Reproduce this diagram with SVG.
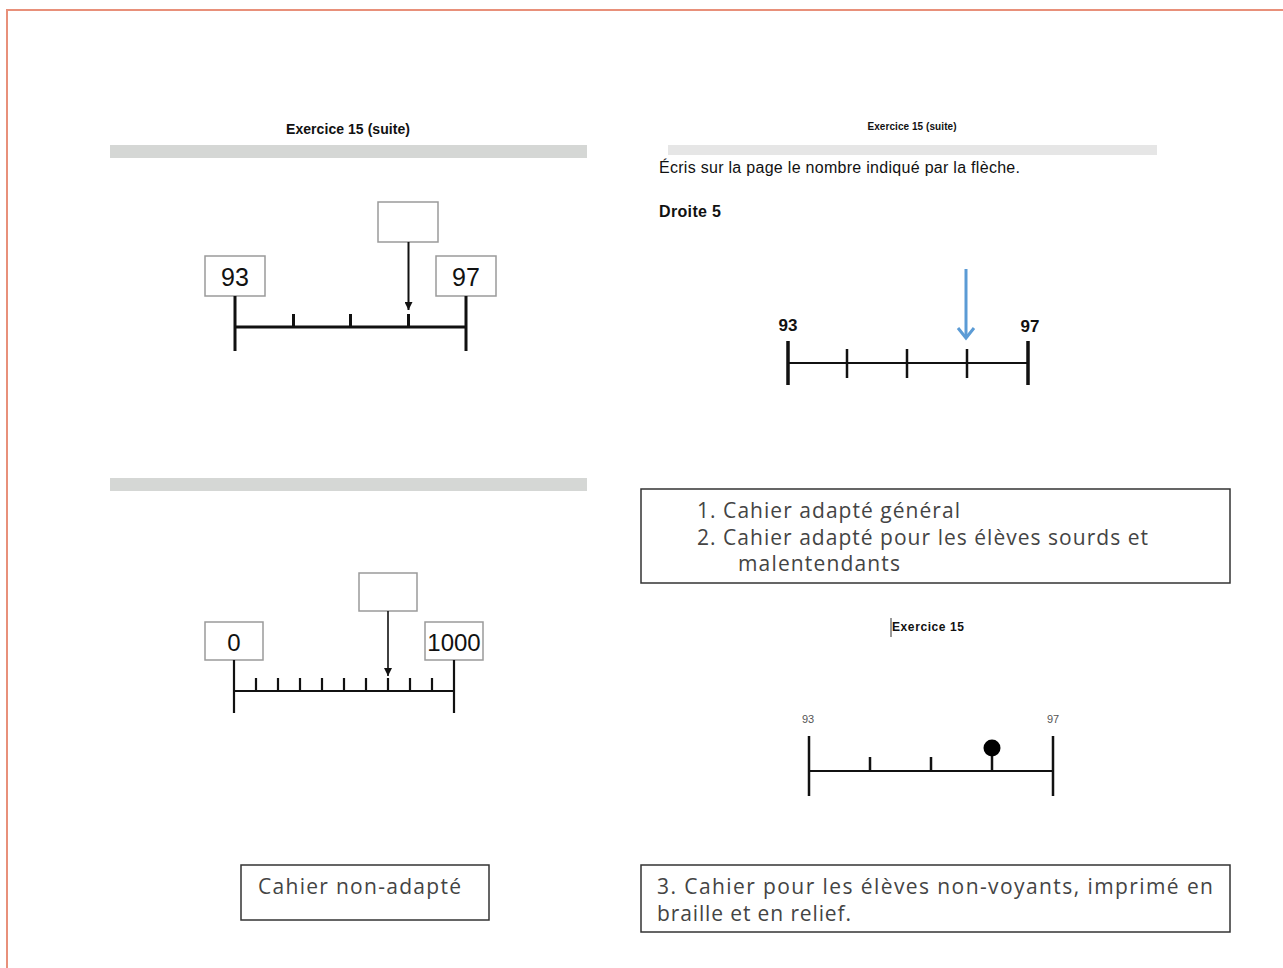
<svg xmlns="http://www.w3.org/2000/svg" width="1283" height="968" viewBox="0 0 1283 968">
<style>
.bar{fill:#d5d7d5}
.bx{fill:#fff;stroke:#9a9a9a;stroke-width:1.5}
.ln{stroke:#111;stroke-width:3;fill:none;stroke-linecap:butt}
.ln2{stroke:#111;stroke-width:2.2;fill:none}
.t{font-family:"Liberation Sans",Arial,sans-serif;fill:#111}
.lbl{fill:#fff;stroke:#333;stroke-width:1.5}
.cap{font-family:"Open Sans","Noto Sans",sans-serif;fill:#444;font-size:21px}
</style>
<defs>
<marker id="ah" viewBox="0 0 8 8" refX="8" refY="4" markerWidth="8" markerHeight="8" markerUnits="userSpaceOnUse" orient="auto">
<path d="M0,0 L8,4 L0,8 z" fill="#111"/>
</marker>
</defs>
<rect x="0" y="0" width="1283" height="968" fill="#fff"/>
<path d="M7,968 V10 H1283" fill="none" stroke="#e8907a" stroke-width="2"/>

<g id="panel-tl">
<text class="t" x="348" y="134" font-size="14" font-weight="bold" text-anchor="middle" textLength="124">Exercice 15 (suite)</text>
<rect class="bar" x="110" y="145" width="477" height="13"/>
<g id="tl-box93"><rect class="bx" x="205" y="256" width="60" height="40"/><text class="t" x="235" y="286" font-size="25" text-anchor="middle">93</text></g>
<g id="tl-box97"><rect class="bx" x="436" y="256" width="60" height="40"/><text class="t" x="466" y="286" font-size="25" text-anchor="middle">97</text></g>
<g id="tl-boxq"><rect class="bx" x="378" y="202" width="60" height="40"/></g>
<g id="tl-line">
<path class="ln" d="M235,327 H466 M235,296 V351 M466,296 V351 M293.5,314 V327 M350.5,314 V327 M408.5,314 V327"/>
</g>
</g>

<g id="panel-bl">
<rect class="bar" x="110" y="478" width="477" height="13"/>
<g id="bl-box0"><rect class="bx" x="205" y="622" width="58" height="38"/><text class="t" x="234" y="651" font-size="24" text-anchor="middle">0</text></g>
<g id="bl-box1000"><rect class="bx" x="425" y="622" width="58" height="38"/><text class="t" x="454" y="651" font-size="24" text-anchor="middle">1000</text></g>
<g id="bl-boxq"><rect class="bx" x="359" y="573" width="58" height="38"/></g>
<g id="bl-line">
<path class="ln2" d="M234,691 H454 M234,660 V713 M454,660 V713 M256,678 V691 M278,678 V691 M300,678 V691 M322,678 V691 M344,678 V691 M366,678 V691 M388,678 V691 M410,678 V691 M432,678 V691"/>
</g>
</g>

<g id="panel-tr">
<text class="t" x="912" y="130" font-size="10" font-weight="bold" text-anchor="middle" textLength="89">Exercice 15 (suite)</text>
<rect x="668" y="145" width="489" height="10" fill="#e6e6e6"/>
<text class="t" x="659" y="173" font-size="16" textLength="361">Écris sur la page le nombre indiqué par la flèche.</text>
<text class="t" x="659" y="217" font-size="16" font-weight="bold" textLength="62">Droite 5</text>
<text class="t" x="788" y="331" font-size="17" font-weight="bold" text-anchor="middle">93</text>
<text class="t" x="1030" y="332" font-size="17" font-weight="bold" text-anchor="middle">97</text>
<g id="tr-line">
<path stroke="#111" stroke-width="2.2" fill="none" d="M788,363 H1028"/>
<path stroke="#111" stroke-width="3.5" fill="none" d="M788,341 V385 M1028,341 V385"/>
<path stroke="#111" stroke-width="2.5" fill="none" d="M847,349 V378 M907,349 V378 M967,349 V378"/>
</g>
</g>

<g id="panel-br">
<text class="t" x="928" y="631" font-size="12" font-weight="bold" text-anchor="middle" textLength="72">Exercice 15</text>
<path d="M891,618 V637" stroke="#333" stroke-width="1"/>
<text class="t" x="808" y="723" font-size="11" text-anchor="middle" style="fill:#555">93</text>
<text class="t" x="1053" y="723" font-size="11" text-anchor="middle" style="fill:#555">97</text>
<g id="br-line">
<path stroke="#111" stroke-width="2.2" fill="none" d="M809,771 H1053"/>
<path stroke="#111" stroke-width="2.5" fill="none" d="M809,736 V796 M1053,736 V796 M870,757 V771 M931,757 V771 M992,748 V771"/>
<circle cx="992" cy="748" r="8.5" fill="#000"/>
</g>
</g>

<g id="label-adapte">
<rect class="lbl" x="641" y="489" width="589" height="94"/>
<text class="cap" x="697" y="518" textLength="263">1. Cahier adapté général</text>
<text class="cap" x="697" y="545" textLength="451">2. Cahier adapté pour les élèves sourds et</text>
<text class="cap" x="738" y="571" textLength="162">malentendants</text>
</g>

<g id="label-nonadapte">
<rect class="lbl" x="241" y="865" width="248" height="55"/>
<text class="cap" x="258" y="894" font-size="21" textLength="203">Cahier non-adapté</text>
</g>

<g id="label-braille">
<rect class="lbl" x="641" y="865" width="589" height="67"/>
<text class="cap" x="657" y="894" textLength="556">3. Cahier pour les élèves non-voyants, imprimé en</text>
<text class="cap" x="657" y="921" textLength="194">braille et en relief.</text>
</g>

<g id="connectors">
<line x1="408.5" y1="242" x2="408.5" y2="310" stroke="#111" stroke-width="2" marker-end="url(#ah)"/>
<line x1="388" y1="611" x2="388" y2="676" stroke="#111" stroke-width="1.6" marker-end="url(#ah)"/>
<line x1="966" y1="269" x2="966" y2="338" stroke="#5b9bd5" stroke-width="3"/>
<path d="M958,328 L966,338 L974,328" fill="none" stroke="#5b9bd5" stroke-width="3"/>
</g>
</svg>
